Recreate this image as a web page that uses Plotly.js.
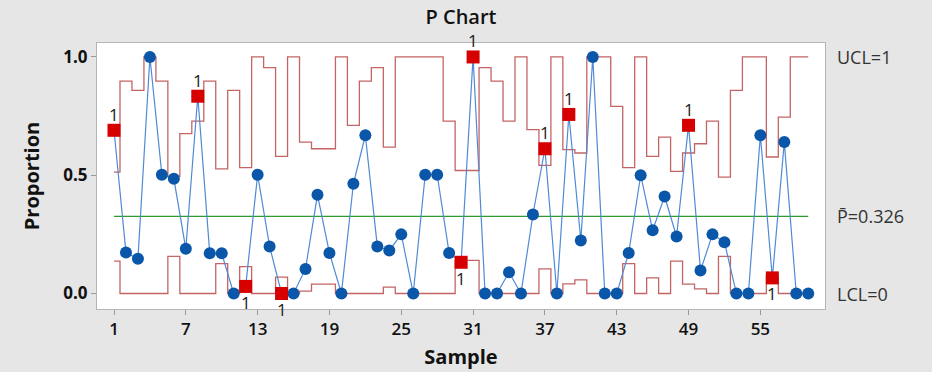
<!DOCTYPE html>
<html>
<head>
<meta charset="utf-8">
<script src="https://cdn.plot.ly/plotly-3.0.1.min.js"></script>
<style>html,body{margin:0;padding:0;background:#e6e6e6;}#chart{width:932px;height:372px;}</style>
</head>
<body>
<div id="chart"></div>
<script>
const proportion = [0.690,0.173,0.147,1.000,0.502,0.485,0.189,0.834,0.170,0.170,
  0.000,0.030,0.502,0.199,0.000,0.000,0.104,0.417,0.171,0.000,
  0.464,0.669,0.199,0.182,0.250,0.000,0.502,0.502,0.171,0.132,
  1.000,0.000,0.000,0.090,0.000,0.334,0.612,0.000,0.757,0.224,
  1.000,0.000,0.000,0.171,0.500,0.267,0.410,0.241,0.711,0.097,
  0.250,0.217,0.000,0.000,0.669,0.066,0.640,0.000,0.000];
const ucl = [0.513,0.898,0.859,1.000,0.898,0.495,0.676,0.729,0.898,0.527,
  0.859,0.532,1.000,0.955,0.580,1.000,0.640,0.612,0.612,1.000,
  0.711,0.898,0.955,0.619,1.000,1.000,1.000,1.000,0.729,0.520,
  0.520,0.955,0.898,0.729,1.000,0.693,0.542,1.000,0.608,0.594,
  1.000,1.000,0.791,0.532,1.000,0.580,0.661,0.516,0.594,0.633,
  0.729,0.492,0.859,1.000,1.000,0.577,0.746,1.000,1.000];
const lcl = [0.137,0,0,0,0,0.157,0,0,0,0.126,
  0,0.114,0,0,0.069,0,0.010,0.040,0.040,0,
  0,0,0,0.027,0,0,0,0,0,0.140,
  0.140,0,0,0,0,0,0.104,0,0.041,0.058,
  0,0,0,0.126,0,0.066,0,0.137,0.040,0.020,
  0,0.157,0,0,0,0.075,0,0,0];
const pbar = 0.326;
const xTicks = [1,7,13,19,25,31,37,43,49,55];
const labels = {ucl: 'UCL=1', center: 'P\u0304=0.326', lcl: 'LCL=0'};

const samples = proportion.map((_, i) => i + 1);
const outX = [], outY = [], ann = [];
proportion.forEach((p, i) => {
  if (p > ucl[i] || p < lcl[i]) {
    outX.push(i + 1); outY.push(p);
    const high = p > ucl[i];
    ann.push({x: i + 1, y: p, xref: 'x', yref: 'y', text: '1', showarrow: false,
      yshift: high ? 16 : -16, font: {family: 'Open Sans, sans-serif', size: 17, color: '#222'}});
  }
});
const sideFont = {family: 'Open Sans, sans-serif', size: 18, color: '#333'};
ann.push({xref: 'paper', x: 1, xanchor: 'left', xshift: 10, yref: 'y', y: 1, text: labels.ucl, showarrow: false, font: sideFont});
ann.push({xref: 'paper', x: 1, xanchor: 'left', xshift: 10, yref: 'y', y: pbar, text: labels.center, showarrow: false, font: sideFont});
ann.push({xref: 'paper', x: 1, xanchor: 'left', xshift: 10, yref: 'y', y: 0, text: labels.lcl, showarrow: false, font: sideFont});

const limColor = '#c46464';
const traces = [
  {x: samples, y: ucl, mode: 'lines', line: {shape: 'hvh', color: limColor, width: 1.3}, hoverinfo: 'skip'},
  {x: samples, y: lcl, mode: 'lines', line: {shape: 'hvh', color: limColor, width: 1.3}, hoverinfo: 'skip'},
  {x: samples, y: samples.map(() => pbar), mode: 'lines', line: {color: '#2f9a2f', width: 1.3}, hoverinfo: 'skip'},
  {x: samples, y: proportion, mode: 'lines+markers', line: {color: '#4f8ad6', width: 1.2},
    marker: {symbol: 'circle', size: 12, color: '#0a56a8'}},
  {x: outX, y: outY, mode: 'markers', marker: {symbol: 'square', size: 13, color: '#d60000'}}
];
const layout = {
  width: 932, height: 372,
  paper_bgcolor: '#e6e6e6', plot_bgcolor: '#ffffff',
  margin: {l: 97, r: 107, t: 43, b: 63},
  showlegend: false,
  title: {text: 'P Chart', x: 0.5, xref: 'paper', xanchor: 'center', y: 0.953, yanchor: 'middle',
    font: {family: 'Open Sans, sans-serif', size: 20, color: '#111', weight: 600}},
  xaxis: {range: [-0.42, 60.4], tickvals: xTicks, ticktext: xTicks.map(String), ticks: 'outside', ticklen: 5,
    tickcolor: '#999', showgrid: false, zeroline: false, showline: true, mirror: true, linecolor: '#b5b5b5',
    tickfont: {family: 'Open Sans, sans-serif', size: 17, color: '#111', weight: 600},
    title: {text: 'Sample', standoff: 10, font: {family: 'Open Sans, sans-serif', size: 20, color: '#111', weight: 700}}},
  yaxis: {range: [-0.0655, 1.059], tickvals: [0, 0.5, 1], tickformat: '.1f', ticks: 'outside', ticklen: 5,
    tickcolor: '#999', showgrid: false, zeroline: false, showline: true, mirror: true, linecolor: '#b5b5b5',
    tickfont: {family: 'Open Sans, sans-serif', size: 17, color: '#111', weight: 700},
    title: {text: 'Proportion', standoff: 18, font: {family: 'Open Sans, sans-serif', size: 20, color: '#111', weight: 700}}},
  annotations: ann
};
Plotly.newPlot('chart', traces, layout, {staticPlot: true, displayModeBar: false});
</script>
</body>
</html>
